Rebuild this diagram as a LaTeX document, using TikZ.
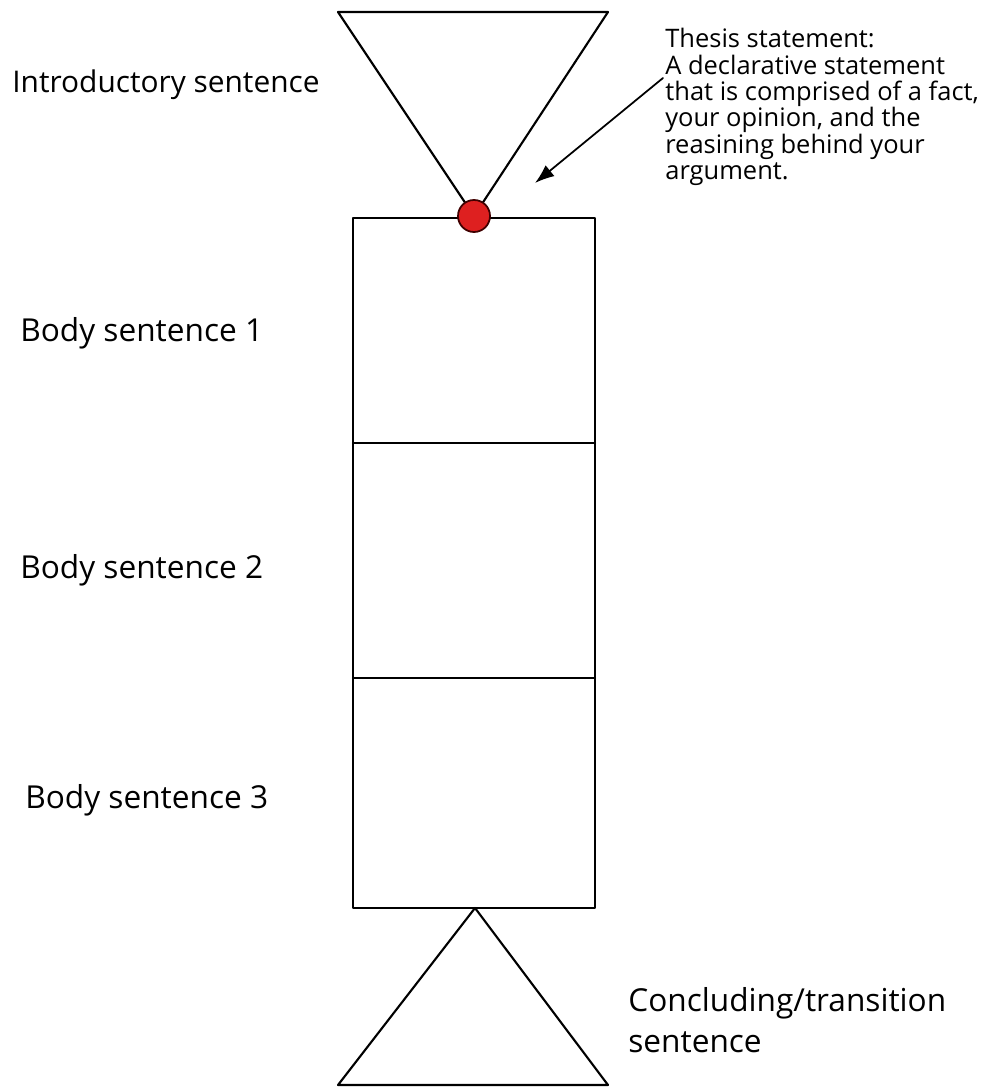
\documentclass[tikz,border=0pt]{standalone}
\usepackage{fontspec}
\setmainfont{Open Sans}
\usetikzlibrary{arrows.meta, positioning}
\definecolor{dot_red}{RGB}{222,32,32}
\tikzset{
	label_text/.style={anchor=west,inner sep=0pt,font=\fontsize{18}{23}\selectfont},
	outline/.style={line width=1.2pt}
}

\begin{document}
\begin{tikzpicture}[x=0.02cm,y=-0.02cm,line join=round,line cap=round]
		\useasboundingbox (0,0) rectangle (982,1087);
		\begin{scope}
		% funnel, paragraph body and closing triangle
		\coordinate (apex_top) at (474,216);
		\draw[outline] (338,12) -- (608,12) -- (apex_top) -- cycle;
		\draw[outline] (353,218) rectangle (595,908);
		\foreach\y in {443,678}
		{
			\draw[outline] (353,\y) -- (595,\y);
		}
		\draw[outline] (475,908) -- (608,1085) -- (338,1085) -- cycle;
		\filldraw[fill=dot_red,draw=black!75!red,line width=1pt] (apex_top) circle (16);
		\end{scope}
		% labels
		\node[label_text,font=\fontsize{17}{22}\selectfont] (intro) at (12,85) {Introductory sentence};
		\foreach\i/\x/\y in {1/20/333,2/20/570,3/25/800}
		{
			\node[label_text] (body\i) at (\x,\y) {Body sentence \i};
		}
		\node[label_text,align=left] (concl) at (628,1020) {Concluding/transition\\sentence};
		\node[anchor=north west,inner sep=0pt,align=left,font=\fontsize{14.5}{15}\selectfont] (thesis) at (665,28)
			{Thesis statement:\\A declarative statement\\that is comprised of a fact,\\your opinion, and the\\reasining behind your\\argument.};
		\coordinate (arrow_tail) at (663,78);
		\coordinate (arrow_tip) at (535,183);
		\draw[line width=1pt,-{Latex[length=11pt,width=8pt]}] (arrow_tail) -- (arrow_tip);
	\end{tikzpicture}
\end{document}
